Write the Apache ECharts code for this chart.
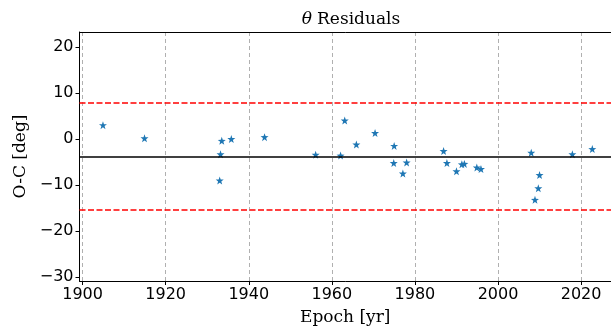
<!DOCTYPE html>
<html>
<head>
<meta charset="utf-8">
<script src="https://cdn.jsdelivr.net/npm/echarts@6/dist/echarts.min.js"></script>
<style>html,body{margin:0;padding:0;background:#fff}#c{width:611px;height:335px}</style>
</head>
<body>
<div id="c"></div>
<script>
// Data
const epochs = [1904.9, 1914.9, 1933.0, 1933.2, 1933.5, 1935.8, 1943.8, 1956.1, 1962.1, 1963.1, 1965.9, 1970.4, 1974.9, 1975.0, 1977.1, 1978.0, 1986.9, 1987.7, 1990.0, 1991.3, 1991.9, 1994.9, 1995.9, 2008.0, 2008.9, 2009.7, 2010.0, 2017.9, 2022.7];
const residuals = [3.0, 0.15, -9.0, -3.3, -0.4, 0.0, 0.4, -3.4, -3.6, 4.0, -1.2, 1.3, -5.2, -1.5, -7.5, -5.1, -2.6, -5.2, -7.0, -5.5, -5.4, -6.2, -6.5, -3.0, -13.2, -10.7, -7.8, -3.3, -2.2];
const meanLine = [-3.8];
const limitLines = [7.8, -15.4];
const xTicks = [1900, 1920, 1940, 1960, 1980, 2000, 2020];
const yTicks = [-30, -20, -10, 0, 10, 20];

const star = 'path://M0,-10 L2.35,-3.24 L9.51,-3.09 L3.8,1.24 L5.88,8.09 L0,4 L-5.88,8.09 L-3.8,1.24 L-9.51,-3.09 L-2.35,-3.24 Z';
const fmt = v => String(v).replace('-', '\u2212');
const chart = echarts.init(document.getElementById('c'), null, {renderer: 'canvas'});
chart.setOption({
  animation: false,
  backgroundColor: '#fff',
  title: {
    text: '{i|θ} {n|Residuals}',
    left: 346, top: 6, textAlign: 'center',
    textStyle: {
      fontWeight: 'normal',
      rich: {
        i: {fontFamily: 'DejaVu Serif', fontStyle: 'italic', fontWeight: 'normal', fontSize: 17, color: '#000'},
        n: {fontFamily: 'DejaVu Serif', fontWeight: 'normal', fontSize: 17, color: '#000'}
      }
    }
  },
  grid: {left: 79.5, right: 0, top: 32, bottom: 54, containLabel: false},
  xAxis: [{
    type: 'value', min: 1899.25, max: 2027.2, minInterval: 20, maxInterval: 20,
    name: 'Epoch [yr]', nameLocation: 'middle', nameGap: 28,
    nameTextStyle: {fontFamily: 'DejaVu Serif', fontSize: 17, color: '#000'},
    axisLine: {show: true, onZero: false, lineStyle: {color: '#000', width: 1}},
    axisTick: {show: true, length: 4, customValues: xTicks, lineStyle: {color: '#000'}},
    axisLabel: {customValues: xTicks, fontFamily: 'DejaVu Sans', fontSize: 16, color: '#000', margin: 6, formatter: fmt},
    splitLine: {show: true, lineStyle: {color: '#b0b0b0', width: 1, type: [4, 3]}}
  }, {
    type: 'value', position: 'top', min: 1899.25, max: 2027.2,
    axisLine: {show: true, onZero: false, lineStyle: {color: '#000', width: 1}},
    axisTick: {show: false}, axisLabel: {show: false}, splitLine: {show: false}
  }],
  yAxis: {
    type: 'value', min: -30.8, max: 23.2, minInterval: 10, maxInterval: 10,
    name: 'O-C [deg]', nameLocation: 'middle', nameGap: 50, nameRotate: 90,
    nameTextStyle: {fontFamily: 'DejaVu Serif', fontSize: 17, color: '#000'},
    axisLine: {show: true, onZero: false, lineStyle: {color: '#000', width: 1}},
    axisTick: {show: true, length: 4, customValues: yTicks, lineStyle: {color: '#000'}},
    axisLabel: {customValues: yTicks, fontFamily: 'DejaVu Sans', fontSize: 16, color: '#000', margin: 6, formatter: fmt},
    splitLine: {show: false}
  },
  series: [{
    type: 'line', data: [], z: 1, silent: true,
    markLine: {
      silent: true, symbol: 'none', label: {show: false}, animation: false,
      data: [
        {yAxis: meanLine[0], lineStyle: {color: '#000', width: 1.5, type: 'solid'}},
        {yAxis: limitLines[0], lineStyle: {color: '#ff0000', width: 1.5, type: [6, 2.5]}},
        {yAxis: limitLines[1], lineStyle: {color: '#ff0000', width: 1.5, type: [6, 2.5]}}
      ]
    }
  }, {
    type: 'scatter', z: 3,
    data: epochs.map((e, i) => [e, residuals[i]]),
    symbol: star, symbolSize: [8, 8],
    itemStyle: {color: '#1f77b4', opacity: 1}
  }]
});
</script>
</body>
</html>
